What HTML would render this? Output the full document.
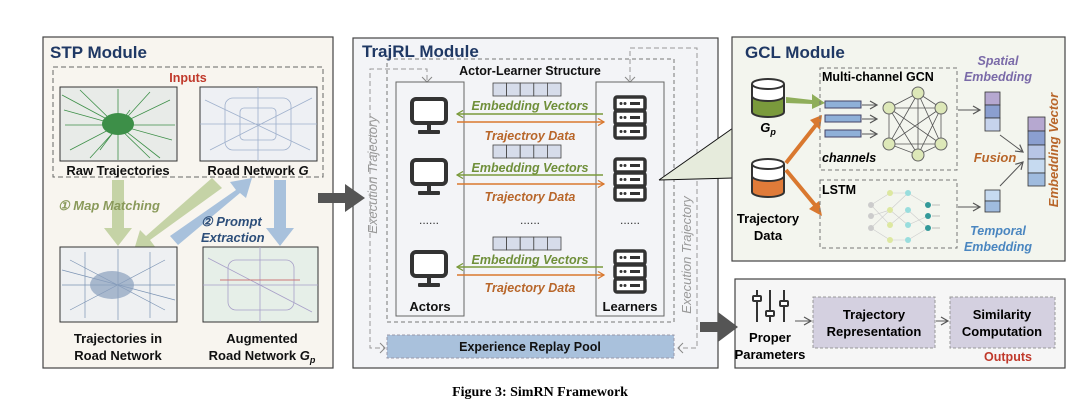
<!DOCTYPE html>
<html><head><meta charset="utf-8"><style>
body{margin:0;background:#fff}
svg{display:block}
text{font-family:"Liberation Sans",sans-serif}
.b{font-weight:bold}
</style></head><body>
<svg width="1080" height="410" viewBox="0 0 1080 410">
<defs>
<marker id="ag" markerWidth="8" markerHeight="8" refX="7" refY="4" orient="auto" markerUnits="userSpaceOnUse"><path d="M1,0.5 L7,4 L1,7.5" fill="none" stroke="#7a9a3c" stroke-width="1.3"/></marker>
<marker id="ao" markerWidth="8" markerHeight="8" refX="7" refY="4" orient="auto" markerUnits="userSpaceOnUse"><path d="M1,0.5 L7,4 L1,7.5" fill="none" stroke="#d9782f" stroke-width="1.3"/></marker>
<marker id="ak" markerWidth="10" markerHeight="10" refX="8" refY="5" orient="auto" markerUnits="userSpaceOnUse"><path d="M1,1 L8,5 L1,9" fill="none" stroke="#555" stroke-width="1.2"/></marker>
<g id="mon"><rect x="-17" y="-16" width="34" height="24" rx="4" fill="#fff" stroke="#333" stroke-width="4"/><rect x="-2" y="8" width="4" height="8" fill="#333"/><rect x="-11" y="15" width="22" height="4" rx="1" fill="#333"/></g>
<g id="srv"><g fill="#fff" stroke="#333" stroke-width="3.5"><rect x="-15" y="-21" width="30" height="13" rx="2"/><rect x="-15" y="-7" width="30" height="13" rx="2"/><rect x="-15" y="7" width="30" height="13" rx="2"/></g>
<g fill="#333"><circle cx="-9" cy="-14.5" r="1.5"/><circle cx="-5" cy="-14.5" r="1.5"/><circle cx="-9" cy="-0.5" r="1.5"/><circle cx="-5" cy="-0.5" r="1.5"/><circle cx="-9" cy="13.5" r="1.5"/><circle cx="-5" cy="13.5" r="1.5"/><rect x="0" y="-16" width="10" height="3"/><rect x="0" y="-2" width="10" height="3"/><rect x="0" y="12" width="10" height="3"/></g></g>
<g id="vec"><g fill="#d6dcea" stroke="#444" stroke-width="0.8"><rect x="0" y="0" width="13.6" height="13"/><rect x="13.6" y="0" width="13.6" height="13"/><rect x="27.2" y="0" width="13.6" height="13"/><rect x="40.8" y="0" width="13.6" height="13"/><rect x="54.4" y="0" width="13.6" height="13"/></g></g>
</defs>

<!-- STP module -->
<rect x="43" y="37" width="290" height="331" fill="#f8f5ef" stroke="#444" stroke-width="1.2"/>
<text x="50" y="58" class="b" font-size="17" fill="#1f3864">STP Module</text>
<rect x="53" y="67" width="270" height="110" fill="none" stroke="#666" stroke-dasharray="5,3"/>
<text x="188" y="82" class="b" font-size="12.5" fill="#c0392b" text-anchor="middle">Inputs</text>
<rect x="60" y="87" width="117" height="74" fill="#e8ebe8" stroke="#333"/>
<g stroke="#3d8f48" stroke-width="0.8" fill="none">
<path d="M62,95 L118,125 L170,100 M70,150 L118,125 L160,158 M118,89 L118,160 M65,125 L175,125 M80,90 L150,158 M150,92 L90,158 M100,150 L130,110 M64,110 L172,140"/>
</g>
<ellipse cx="118" cy="124" rx="16" ry="11" fill="#3d8f48"/>
<rect x="200" y="87" width="117" height="74" fill="#eef0f4" stroke="#333"/>
<g stroke="#9fb0cc" stroke-width="0.8" fill="none"><rect x="225" y="98" width="66" height="52" rx="8"/><rect x="240" y="108" width="36" height="32" rx="4"/><path d="M200,124 L317,124 M258,87 L258,161 M205,100 L310,150 M210,150 L312,98"/></g>
<text x="118" y="175" class="b" font-size="13" text-anchor="middle" fill="#111">Raw Trajectories</text>
<text x="258" y="175" class="b" font-size="13" text-anchor="middle" fill="#111">Road Network <tspan font-style="italic">G</tspan></text>
<!-- arrows -->
<path d="M112,180 L124,180 L124,228 L132,228 L118,246 L104,228 L112,228 Z" fill="#c5d3a6"/>
<path d="M212,178 L222,188 L150,240 L156,248 L134,250 L140,230 L146,236 Z" fill="#c5d3a6"/>
<path d="M178,245 L170,236 L236,190 L230,182 L252,178 L246,198 L240,193 Z" fill="#a8c1dc"/>
<path d="M274,180 L286,180 L286,228 L294,228 L280,246 L266,228 L274,228 Z" fill="#a8c1dc"/>
<text x="58" y="210" font-size="13" font-style="italic" class="b" fill="#8a9a5b">① Map Matching</text>
<text x="201" y="226" font-size="13" font-style="italic" class="b" fill="#2e4f7a">② Prompt</text>
<text x="201" y="242" font-size="13" font-style="italic" class="b" fill="#2e4f7a">Extraction</text>
<rect x="60" y="247" width="117" height="75" fill="#eef0f2" stroke="#333"/>
<g stroke="#7b93b3" stroke-width="0.7" fill="none"><path d="M62,285 L175,285 M118,249 L118,320 M70,260 L165,310 M70,310 L165,260 M85,252 L85,318 M150,252 L150,318 M62,270 L175,300"/></g>
<ellipse cx="112" cy="285" rx="22" ry="14" fill="#8aa0bd" opacity="0.7"/>
<rect x="203" y="247" width="115" height="75" fill="#e6efe8" stroke="#333"/>
<g stroke="#a8a0c8" stroke-width="0.8" fill="none"><rect x="228" y="260" width="66" height="50" rx="8"/><path d="M203,285 L318,285 M260,247 L260,322 M208,258 L312,312"/></g>
<path d="M220,280 L300,280" stroke="#c77" stroke-width="1"/>
<text x="118" y="343" class="b" font-size="13" text-anchor="middle" fill="#111">Trajectories in</text>
<text x="118" y="360" class="b" font-size="13" text-anchor="middle" fill="#111">Road Network</text>
<text x="262" y="343" class="b" font-size="13" text-anchor="middle" fill="#111">Augmented</text>
<text x="262" y="360" class="b" font-size="13" text-anchor="middle" fill="#111">Road Network <tspan font-style="italic">G<tspan font-size="9" dy="3">p</tspan></tspan></text>

<!-- TrajRL module -->
<rect x="353" y="38" width="365" height="330" fill="#f3f4f7" stroke="#444" stroke-width="1.2"/>
<path d="M318,193 L345,193 L345,184 L365,198 L345,212 L345,203 L318,203 Z" fill="#555"/>
<text x="362" y="57" class="b" font-size="17" fill="#1f3864">TrajRL Module</text>
<rect x="387" y="59" width="287" height="263" fill="none" stroke="#777" stroke-dasharray="4,3"/>
<text x="530" y="75" class="b" font-size="12.5" text-anchor="middle" fill="#111">Actor-Learner Structure</text>
<g fill="none" stroke="#999" stroke-dasharray="5,3"><path d="M427,80 L427,69 L370,69 L370,348 L384,348"/><path d="M630,80 L630,48 L697,48 L697,348 L678,348"/></g>
<g fill="none" stroke="#888"><path d="M422,77 L427,82 L432,77"/><path d="M625,77 L630,82 L635,77"/><path d="M380,343 L385,348 L380,353"/><path d="M683,343 L678,348 L683,353"/></g>
<rect x="396" y="82" width="68" height="234" fill="none" stroke="#666"/>
<rect x="596" y="82" width="68" height="234" fill="none" stroke="#666"/>
<text x="377" y="175" font-size="13" font-style="italic" fill="#999" text-anchor="middle" transform="rotate(-90 377 175)">Execution Trajectory</text>
<text x="691" y="255" font-size="13" font-style="italic" fill="#999" text-anchor="middle" transform="rotate(-90 691 255)">Execution Trajectory</text>
<use href="#mon" x="429" y="115"/><use href="#mon" x="429" y="176"/><use href="#mon" x="429" y="268"/>
<use href="#srv" x="630" y="118"/><use href="#srv" x="630" y="180"/><use href="#srv" x="630" y="272"/>
<use href="#vec" x="493" y="83"/><use href="#vec" x="493" y="145"/><use href="#vec" x="493" y="237"/>
<g font-size="12.5" font-style="italic" class="b" text-anchor="middle">
<text x="530" y="110" fill="#6f8f3a">Embedding Vectors</text><text x="530" y="140" fill="#b8662a">Trajectroy Data</text>
<text x="530" y="172" fill="#6f8f3a">Embedding Vectors</text><text x="530" y="201" fill="#b8662a">Trajectory Data</text>
<text x="530" y="264" fill="#6f8f3a">Embedding Vectors</text><text x="530" y="292" fill="#b8662a">Trajectory Data</text>
</g>
<g stroke-width="1.5"><path d="M603,114 L457,114" stroke="#7a9a3c" marker-end="url(#ag)"/><path d="M457,122 L604,122" stroke="#d9782f" marker-end="url(#ao)"/>
<path d="M603,175 L457,175" stroke="#7a9a3c" marker-end="url(#ag)"/><path d="M457,184 L604,184" stroke="#d9782f" marker-end="url(#ao)"/>
<path d="M603,267 L457,267" stroke="#7a9a3c" marker-end="url(#ag)"/><path d="M457,275 L604,275" stroke="#d9782f" marker-end="url(#ao)"/></g>
<g font-size="12" fill="#333" text-anchor="middle"><text x="429" y="224">......</text><text x="530" y="224">......</text><text x="630" y="224">......</text></g>
<text x="430" y="311" class="b" font-size="13" text-anchor="middle" fill="#111">Actors</text>
<text x="630" y="311" class="b" font-size="13" text-anchor="middle" fill="#111">Learners</text>
<rect x="387" y="335" width="287" height="23" fill="#a9c1dc" stroke="#99a" stroke-dasharray="3,2"/>
<text x="530" y="351" class="b" font-size="12.5" text-anchor="middle" fill="#111">Experience Replay Pool</text>
<path d="M659,180 L733,128 L733,178 Z" fill="#e6ebdc"/>
<path d="M659,180 L733,128 M659,180 L733,178" stroke="#111" stroke-width="1"/>

<!-- GCL -->
<rect x="732" y="37" width="333" height="224" fill="#f3f5ee" stroke="#444" stroke-width="1.2"/>
<text x="745" y="58" class="b" font-size="17" fill="#1f3864">GCL Module</text>
<g stroke="#333" stroke-width="2"><path d="M752,84 L752,112 A16,5 0 0 0 784,112 L784,84" fill="#7a9a3c"/><path d="M752,84 L752,96 A16,5 0 0 0 784,96 L784,84" fill="#fff"/><ellipse cx="768" cy="84" rx="16" ry="5" fill="#fff"/></g>
<text x="768" y="132" class="b" font-size="13" font-style="italic" text-anchor="middle">G<tspan font-size="9" dy="3">p</tspan></text>
<g stroke="#333" stroke-width="2"><path d="M752,164 L752,192 A16,5 0 0 0 784,192 L784,164" fill="#e07b39"/><path d="M752,164 L752,176 A16,5 0 0 0 784,176 L784,164" fill="#fff"/><ellipse cx="768" cy="164" rx="16" ry="5" fill="#fff"/></g>
<text x="768" y="223" class="b" font-size="13" text-anchor="middle">Trajectory</text>
<text x="768" y="240" class="b" font-size="13" text-anchor="middle">Data</text>
<path d="M786,97 L812,100 L812,94 L825,103 L812,109 L812,104 L786,103 Z" fill="#8fae5a"/>
<path d="M786,163 L816,125" stroke="#d9782f" stroke-width="4"/><path d="M810,120 L822,115 L820,130 Z" fill="#d9782f"/>
<path d="M786,170 L815,205" stroke="#d9782f" stroke-width="4"/><path d="M809,209 L822,216 L819,201 Z" fill="#d9782f"/>
<rect x="820" y="68" width="137" height="102" fill="none" stroke="#777" stroke-dasharray="4,3"/>
<text x="822" y="81" class="b" font-size="12.5">Multi-channel GCN</text>
<g fill="#8fb0d8" stroke="#446"><rect x="825" y="101" width="36" height="7"/><rect x="825" y="115" width="36" height="7"/><rect x="825" y="130" width="36" height="7"/></g>
<g stroke="#555" marker-end="url(#ak)"><path d="M862,105 L877,105"/><path d="M862,119 L877,119"/><path d="M862,134 L877,134"/><path d="M958,110 L980,110"/><path d="M958,207 L980,207"/><path d="M1000,135 L1023,152"/><path d="M1000,186 L1023,162"/></g>
<text x="822" y="162" class="b" font-size="12.5" font-style="italic">channels</text>
<g stroke="#555" stroke-width="0.8">
<path d="M918,93 L941,108 L941,144 L918,155 L889,144 L889,108 Z M918,93 L918,155 M918,93 L889,144 M918,93 L941,144 M941,108 L889,108 M941,108 L889,144 M941,108 L918,155 M941,144 L889,108 M941,144 L889,144 M889,108 L918,155" fill="none"/>
</g>
<g fill="#dde8b8" stroke="#666"><circle cx="918" cy="93" r="6"/><circle cx="941" cy="108" r="6"/><circle cx="941" cy="144" r="6"/><circle cx="918" cy="155" r="6"/><circle cx="889" cy="144" r="6"/><circle cx="889" cy="108" r="6"/></g>
<rect x="820" y="180" width="137" height="68" fill="none" stroke="#777" stroke-dasharray="4,3"/>
<text x="822" y="194" class="b" font-size="12.5">LSTM</text>
<g stroke="#ccc" stroke-width="0.6" fill="none"><path d="M871,205 L890,193 L908,193 L928,205 M871,216 L890,210 L908,225 L928,216 M871,228 L890,240 L908,240 L928,228 M871,205 L890,225 L908,210 L928,228 M871,228 L890,210 L908,193"/></g>
<g stroke="#aaa" stroke-width="0.8" fill="none"><path d="M932,205 L940,205 M932,216 L940,216 M932,228 L940,228"/></g>
<g><circle cx="871" cy="205" r="3" fill="#ccc"/><circle cx="871" cy="216" r="3" fill="#ccc"/><circle cx="871" cy="228" r="3" fill="#ccc"/><circle cx="890" cy="193" r="3" fill="#dde8a0"/><circle cx="890" cy="210" r="3" fill="#dde8a0"/><circle cx="890" cy="225" r="3" fill="#dde8a0"/><circle cx="890" cy="240" r="3" fill="#dde8a0"/><circle cx="908" cy="193" r="3" fill="#9dd"/><circle cx="908" cy="210" r="3" fill="#9dd"/><circle cx="908" cy="225" r="3" fill="#9dd"/><circle cx="908" cy="240" r="3" fill="#9dd"/><circle cx="928" cy="205" r="3" fill="#399"/><circle cx="928" cy="216" r="3" fill="#399"/><circle cx="928" cy="228" r="3" fill="#399"/></g>
<text x="998" y="65" class="b" font-size="12.5" font-style="italic" fill="#7a6aa8" text-anchor="middle">Spatial</text>
<text x="998" y="81" class="b" font-size="12.5" font-style="italic" fill="#7a6aa8" text-anchor="middle">Embedding</text>
<g stroke="#333" stroke-width="0.8"><rect x="985" y="92" width="15" height="13" fill="#b6a8d0"/><rect x="985" y="105" width="15" height="13" fill="#8b9fd0"/><rect x="985" y="118" width="15" height="13" fill="#c6d3ec"/>
<rect x="985" y="190" width="15" height="11" fill="#c6daf0"/><rect x="985" y="201" width="15" height="11" fill="#9fbbde"/>
<rect x="1028" y="117" width="17" height="14" fill="#b6a8d0"/><rect x="1028" y="131" width="17" height="14" fill="#8b9fd0"/><rect x="1028" y="145" width="17" height="14" fill="#b8c6e6"/><rect x="1028" y="159" width="17" height="14" fill="#c6daf0"/><rect x="1028" y="173" width="17" height="13" fill="#9fbbde"/></g>
<text x="995" y="162" class="b" font-size="13" font-style="italic" fill="#b8662a" text-anchor="middle">Fusion</text>
<text x="998" y="235" class="b" font-size="12.5" font-style="italic" fill="#4a86c0" text-anchor="middle">Temporal</text>
<text x="998" y="251" class="b" font-size="12.5" font-style="italic" fill="#4a86c0" text-anchor="middle">Embedding</text>
<text x="1058" y="150" class="b" font-size="13" font-style="italic" fill="#b8662a" text-anchor="middle" transform="rotate(-90 1058 150)">Embedding Vector</text>

<!-- Outputs -->
<rect x="735" y="279" width="330" height="89" fill="#f6f6f6" stroke="#444" stroke-width="1.2"/>
<path d="M700,322 L718,322 L718,312 L738,327 L718,342 L718,332 L700,332 Z" fill="#555"/>
<g stroke="#333" stroke-width="2" fill="#fff"><path d="M757,290 L757,322 M770,290 L770,322 M784,290 L784,322"/><rect x="753" y="296" width="8" height="5" rx="1"/><rect x="766" y="311" width="8" height="5" rx="1"/><rect x="780" y="301" width="8" height="5" rx="1"/></g>
<text x="770" y="342" class="b" font-size="13" text-anchor="middle">Proper</text>
<text x="770" y="359" class="b" font-size="13" text-anchor="middle">Parameters</text>
<rect x="813" y="297" width="122" height="51" fill="#d4d0e0" stroke="#999" stroke-dasharray="3,2"/>
<rect x="950" y="297" width="105" height="51" fill="#d4d0e0" stroke="#999" stroke-dasharray="3,2"/>
<g stroke="#555" marker-end="url(#ak)"><path d="M795,321 L811,321"/><path d="M936,321 L948,321"/></g>
<text x="874" y="319" class="b" font-size="13" text-anchor="middle">Trajectory</text>
<text x="874" y="336" class="b" font-size="13" text-anchor="middle">Representation</text>
<text x="1002" y="319" class="b" font-size="13" text-anchor="middle">Similarity</text>
<text x="1002" y="336" class="b" font-size="13" text-anchor="middle">Computation</text>
<text x="1008" y="361" class="b" font-size="12.5" fill="#c0392b" text-anchor="middle">Outputs</text>

<text x="540" y="396" style="font-family:'Liberation Serif',serif;font-weight:bold;font-size:14px" text-anchor="middle">Figure 3: SimRN Framework</text>
</svg>
</body></html>
